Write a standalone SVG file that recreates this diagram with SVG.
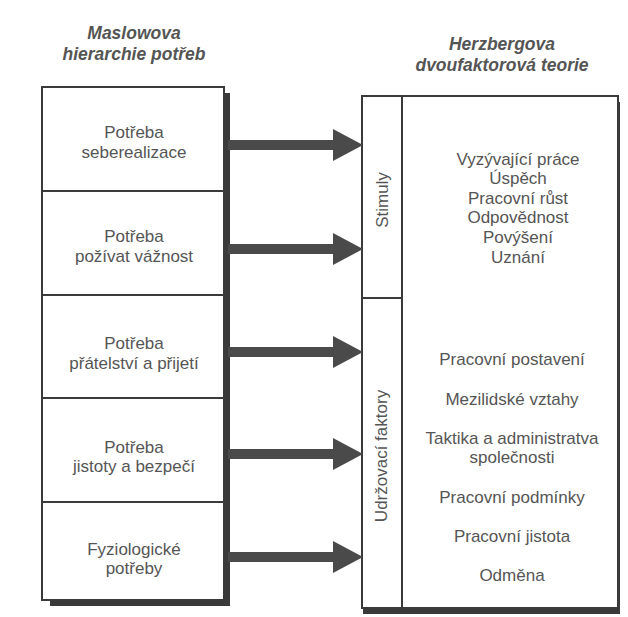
<svg xmlns="http://www.w3.org/2000/svg" width="628" height="617" viewBox="0 0 628 617">
<defs>
<style>
.t{font-family:"Liberation Sans",Arial,sans-serif;font-size:17px;fill:#555;text-anchor:middle}
.h{font-family:"Liberation Sans",Arial,sans-serif;font-size:17.5px;font-weight:bold;font-style:italic;fill:#555;text-anchor:middle}
.box{fill:#fff;stroke:#3a3a3a;stroke-width:2}
.ln{stroke:#3a3a3a;stroke-width:2;fill:none}
.arr{fill:#4a4a4a}
</style>
<path id="arrow" d="M0,-5 L105,-5 L105,-16 L135,0 L105,16 L105,5 L0,5 Z"/>
</defs>
<rect width="628" height="617" fill="#fff"/>
<text class="h" x="134" y="39">Maslowova</text>
<text class="h" x="134" y="60">hierarchie potřeb</text>
<text class="h" x="502" y="50">Herzbergova</text>
<text class="h" x="502" y="71">dvoufaktorová teorie</text>

<g id="maslow">
<rect x="46" y="90" width="180" height="513" fill="#3a3a3a" transform="translate(4,3)"/>
<rect class="box" x="42" y="87" width="182" height="513"/>
</g>
<g id="n1"><line class="ln" x1="42" y1="191" x2="224" y2="191"/>
<text class="t" x="134" y="138">Potřeba</text><text class="t" x="134" y="158">seberealizace</text></g>
<g id="n2"><line class="ln" x1="42" y1="295" x2="224" y2="295"/>
<text class="t" x="134" y="242">Potřeba</text><text class="t" x="134" y="262">požívat vážnost</text></g>
<g id="n3"><line class="ln" x1="42" y1="398" x2="224" y2="398"/>
<text class="t" x="134" y="349">Potřeba</text><text class="t" x="134" y="369">přátelství a přijetí</text></g>
<g id="n4"><line class="ln" x1="42" y1="502" x2="224" y2="502"/>
<text class="t" x="134" y="453">Potřeba</text><text class="t" x="134" y="472">jistoty a bezpečí</text></g>
<g id="n5">
<text class="t" x="134" y="555">Fyziologické</text><text class="t" x="134" y="574">potřeby</text></g>

<g id="herzberg">
<rect x="363" y="99" width="257" height="512" fill="#3a3a3a" transform="translate(0,3)"/>
<rect class="box" x="362" y="96" width="256" height="512"/>
<line class="ln" x1="402" y1="96" x2="402" y2="608"/>
</g>
<g id="stimuly">
<line class="ln" x1="362" y1="298" x2="402" y2="298"/>
<text class="t" transform="translate(388,200) rotate(-90)">Stimuly</text>
<text class="t" x="518" y="165">Vyzývající práce</text>
<text class="t" x="518" y="184">Úspěch</text>
<text class="t" x="518" y="204">Pracovní růst</text>
<text class="t" x="518" y="223">Odpovědnost</text>
<text class="t" x="518" y="243">Povýšení</text>
<text class="t" x="518" y="263">Uznání</text>
</g>
<g id="udrzovaci">
<text class="t" transform="translate(387,456) rotate(-90)">Udržovací faktory</text>
<text class="t" x="512" y="365">Pracovní postavení</text>
<text class="t" x="512" y="405">Mezilidské vztahy</text>
<text class="t" x="512" y="444">Taktika a administratva</text>
<text class="t" x="512" y="463">společnosti</text>
<text class="t" x="512" y="503">Pracovní podmínky</text>
<text class="t" x="512" y="542">Pracovní jistota</text>
<text class="t" x="512" y="581">Odměna</text>
</g>

<g id="connectors" class="arr">
<use href="#arrow" x="228" y="145"/>
<use href="#arrow" x="228" y="249"/>
<use href="#arrow" x="228" y="352"/>
<use href="#arrow" x="228" y="454"/>
<use href="#arrow" x="228" y="557"/>
</g>
</svg>
